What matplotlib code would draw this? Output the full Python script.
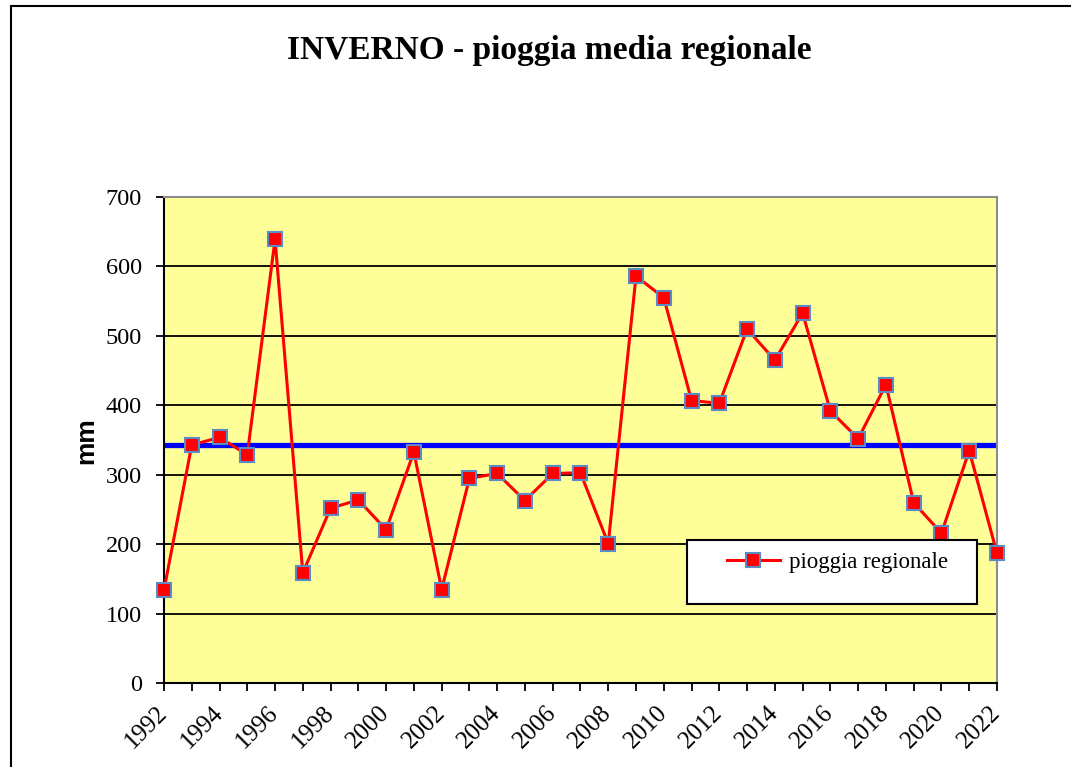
import matplotlib.pyplot as plt
from matplotlib.patches import Rectangle

years = list(range(1992, 2023))
pioggia = [134, 343, 354, 329, 639, 159, 252, 264, 221, 333, 135,
           295, 302, 263, 302, 303, 201, 586, 555, 407, 403,
           510, 465, 533, 392, 352, 430, 260, 216, 335, 187]
media = 343
yticks = [0, 100, 200, 300, 400, 500, 600, 700]
xlabels = list(range(1992, 2023, 2))

serif = ['Liberation Serif', 'DejaVu Serif']

fig = plt.figure(figsize=(10.71, 7.67), dpi=100)
ax = fig.add_axes([0.1531, 0.1091, 0.7778, 0.6341])
ax.set_facecolor('#FFFF99')

# outer chart frame (runs off the right and bottom edges)
fig.patches.append(Rectangle((11 / 1071, -0.05), 1.2, 1 - 6 / 767 + 0.05,
                             transform=fig.transFigure, fill=False,
                             edgecolor='black', linewidth=1.5, clip_on=False))

ax.plot(years, pioggia, color='red', lw=2.2, marker='s', ms=10,
        mfc='red', mec='#5B8BC5', mew=1.5, label='pioggia regionale',
        zorder=3, clip_on=False)
ax.axhline(media, color='#0000FF', lw=3.8, zorder=2)

ax.set_xlim(1992, 2022)
ax.set_ylim(0, 700)
ax.set_yticks(yticks)
ax.set_xticks(xlabels)
ax.set_xticks(years, minor=True)
ax.grid(axis='y', color='black', lw=1.3)
ax.set_axisbelow(True)

for lab in ax.get_xticklabels():
    lab.set_rotation(45)
    lab.set_ha('right')
    lab.set_va('center')
    lab.set_rotation_mode('anchor')
    lab.set_family(serif)
    lab.set_fontsize(18)
for lab in ax.get_yticklabels():
    lab.set_family(serif)
    lab.set_fontsize(17.5)

ax.tick_params(axis='both', which='both', direction='out', length=6,
               width=1.3, color='black')
ax.tick_params(axis='y', pad=10)
ax.tick_params(axis='x', pad=13)

for s in ['left', 'bottom']:
    ax.spines[s].set_color('black')
    ax.spines[s].set_linewidth(1.5)
for s in ['top', 'right']:
    ax.spines[s].set_color('#8C8C8C')
    ax.spines[s].set_linewidth(1.5)

ax.set_ylabel('mm', family=['Liberation Sans', 'DejaVu Sans'],
              fontweight='bold', fontsize=19, labelpad=5)

fig.text(0.5125, 0.934, 'INVERNO - pioggia media regionale', ha='center',
         va='center', family=serif, fontweight='bold', fontsize=24)

# legend box
box = Rectangle((0.628, 0.1626), 0.348, 0.132, transform=ax.transAxes,
                facecolor='white', edgecolor='black', lw=1.5, zorder=5)
ax.add_patch(box)
leg = ax.legend(loc='center left', bbox_to_anchor=(0.676, 0.249),
                frameon=False, prop={'family': serif, 'size': 16.5},
                handlelength=2.3, handletextpad=0.4, borderaxespad=0,
                borderpad=0)
leg.set_zorder(6)

fig.savefig('out.png', dpi=100)
